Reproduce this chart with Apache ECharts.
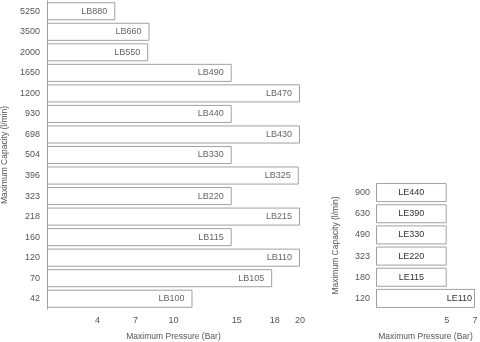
<!DOCTYPE html>
<html>
<head>
<meta charset="utf-8">
<script src="https://cdn.jsdelivr.net/npm/echarts@6/dist/echarts.min.js"></script>
<style>
  html, body { margin: 0; padding: 0; background: #fff; }
  #chart { width: 480px; height: 342px; }
</style>
</head>
<body>
<div id="chart"></div>
<script>
// LB series: capacity categories (bottom to top), model names, maximum pressure
const lbCapacity = ['42', '70', '120', '160', '218', '323', '396', '504', '698', '930', '1200', '1650', '2000', '3500', '5250'];
const lbModels = ['LB100', 'LB105', 'LB110', 'LB115', 'LB215', 'LB220', 'LB325', 'LB330', 'LB430', 'LB440', 'LB470', 'LB490', 'LB550', 'LB660', 'LB880'];
const lbPressure = [11.5, 17.8, 20, 14.6, 20, 14.6, 19.9, 14.6, 20, 14.6, 20, 14.6, 8.0, 8.1, 5.4];
const lbTicks = [4, 7, 10, 15, 18, 20];

// LE series
const leCapacity = ['120', '180', '323', '490', '630', '900'];
const leModels = ['LE110', 'LE115', 'LE220', 'LE330', 'LE390', 'LE440'];
const lePressure = [7, 5, 5, 5, 5, 5];
const leTicks = [5, 7];

const FONT = 'Liberation Sans, Arial, sans-serif';

function barData(values, names, centerShort) {
  const top = Math.max(...values);
  return values.map((v, i) => {
    const item = { value: v, name: names[i] };
    if (centerShort && v < top) {
      item.label = { position: 'inside' };
    }
    return item;
  });
}

const chart = echarts.init(document.getElementById('chart'), null, { renderer: 'canvas' });

const axisNameStyle = { color: '#555', fontSize: 8.5, fontFamily: FONT };
const tickStyle = { color: '#555', fontSize: 9, fontFamily: FONT };

chart.setOption({
  animation: false,
  backgroundColor: '#fff',
  grid: [
    { left: 47, right: 180, top: 1, bottom: 33, outerBoundsMode: 'none', containLabel: false },
    { left: 376, right: 5, top: 182, bottom: 33, outerBoundsMode: 'none', containLabel: false }
  ],
  xAxis: [
    {
      gridIndex: 0, type: 'value', min: 0, max: 20,
      name: 'Maximum Pressure (Bar)', nameLocation: 'middle', nameGap: 23,
      nameTextStyle: axisNameStyle,
      axisLine: { show: false }, axisTick: { show: false }, splitLine: { show: false },
      axisLabel: Object.assign({ customValues: lbTicks, margin: 7 }, tickStyle)
    },
    {
      gridIndex: 1, type: 'value', min: 0, max: 7,
      name: 'Maximum Pressure (Bar)', nameLocation: 'middle', nameGap: 23,
      nameTextStyle: axisNameStyle,
      axisLine: { show: false }, axisTick: { show: false }, splitLine: { show: false },
      axisLabel: Object.assign({ customValues: leTicks, margin: 7 }, tickStyle)
    }
  ],
  yAxis: [
    {
      gridIndex: 0, type: 'category', data: lbCapacity,
      name: 'Maximum Capacity (l/min)', nameLocation: 'middle', nameGap: 32,
      nameTextStyle: axisNameStyle,
      axisLine: { show: true, lineStyle: { color: '#999', width: 1 } },
      axisTick: { show: false },
      axisLabel: Object.assign({ margin: 7 }, tickStyle)
    },
    {
      gridIndex: 1, type: 'category', data: leCapacity,
      name: 'Maximum Capacity (l/min)', nameLocation: 'middle', nameGap: 36,
      nameTextStyle: axisNameStyle,
      axisLine: { show: false },
      axisTick: { show: false },
      axisLabel: Object.assign({ margin: 6 }, tickStyle)
    }
  ],
  series: [
    {
      type: 'bar', xAxisIndex: 0, yAxisIndex: 0,
      data: barData(lbPressure, lbModels, false),
      barCategoryGap: '12%',
      itemStyle: { color: '#fff', borderColor: '#a0a0a0', borderWidth: 1 },
      label: {
        show: true, position: 'insideRight', distance: 8,
        formatter: p => p.name, color: '#666', fontSize: 9, fontFamily: FONT
      }
    },
    {
      type: 'bar', xAxisIndex: 1, yAxisIndex: 1,
      data: barData(lePressure, leModels, true),
      barCategoryGap: '10%',
      itemStyle: { color: '#fff', borderColor: '#a0a0a0', borderWidth: 1 },
      label: {
        show: true, position: 'insideRight', distance: 3,
        formatter: p => p.name, color: '#333', fontSize: 9, fontFamily: FONT
      }
    }
  ]
});
</script>
</body>
</html>
